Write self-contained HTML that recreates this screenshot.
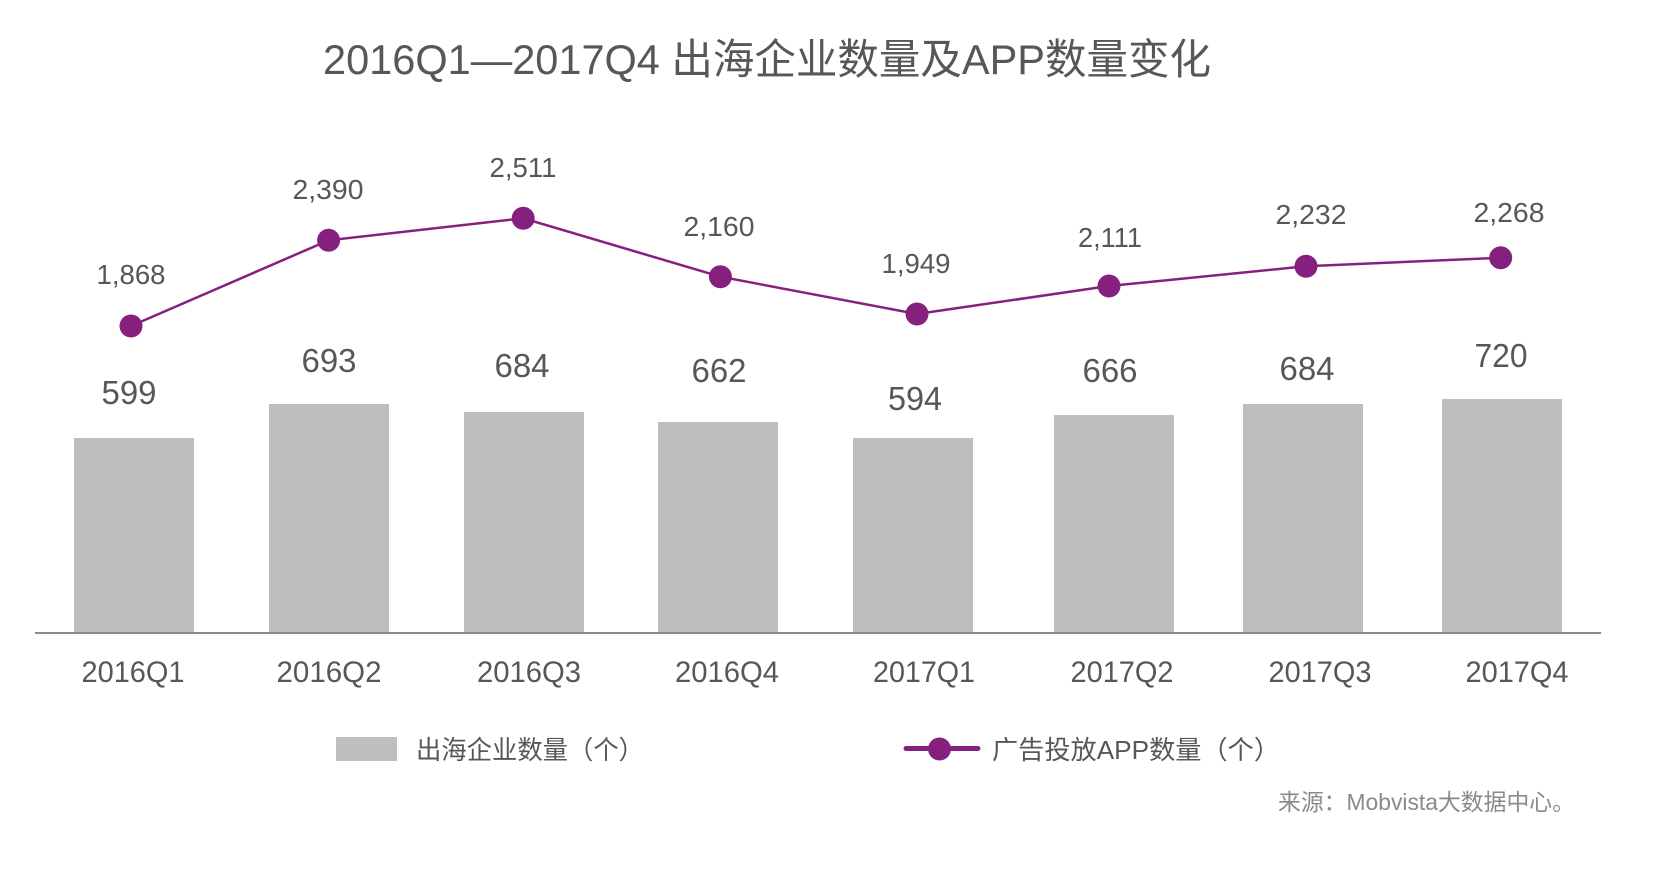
<!DOCTYPE html>
<html>
<head>
<meta charset="utf-8">
<style>
  html, body { margin: 0; padding: 0; background: #ffffff; }
  body { width: 1664px; height: 888px; overflow: hidden; }
  svg { display: block; }
  text { font-family: "Liberation Sans", "Noto Sans CJK SC", sans-serif; fill: #575757; }
</style>
</head>
<body>
<svg width="1664" height="888" viewBox="0 0 1664 888" xmlns="http://www.w3.org/2000/svg">
  <rect x="0" y="0" width="1664" height="888" fill="#ffffff"/>

  <!-- Title -->
  <text x="323" y="74" font-size="42" textLength="888" lengthAdjust="spacingAndGlyphs">2016Q1—2017Q4 出海企业数量及APP数量变化</text>

  <!-- Bars -->
  <g fill="#bdbebd">
    <rect x="74" y="438" width="120" height="195"/>
    <rect x="269" y="404" width="120" height="229"/>
    <rect x="464" y="412" width="120" height="221"/>
    <rect x="658" y="422" width="120" height="211"/>
    <rect x="853" y="438" width="120" height="195"/>
    <rect x="1054" y="415" width="120" height="218"/>
    <rect x="1243" y="404" width="120" height="229"/>
    <rect x="1442" y="399" width="120" height="234"/>
  </g>

  <!-- Axis -->
  <line x1="35" y1="633" x2="1601" y2="633" stroke="#8c8c8c" stroke-width="2"/>

  <!-- Bar labels -->
  <g font-size="33" text-anchor="middle">
    <text x="129" y="404" textLength="55" lengthAdjust="spacingAndGlyphs">599</text>
    <text x="329" y="372" textLength="55" lengthAdjust="spacingAndGlyphs">693</text>
    <text x="522" y="377" textLength="55" lengthAdjust="spacingAndGlyphs">684</text>
    <text x="719" y="382" textLength="55" lengthAdjust="spacingAndGlyphs">662</text>
    <text x="915" y="410" textLength="54" lengthAdjust="spacingAndGlyphs">594</text>
    <text x="1110" y="382" textLength="55" lengthAdjust="spacingAndGlyphs">666</text>
    <text x="1307" y="380" textLength="55" lengthAdjust="spacingAndGlyphs">684</text>
    <text x="1501" y="367" textLength="53" lengthAdjust="spacingAndGlyphs">720</text>
  </g>

  <!-- Line series -->
  <polyline fill="none" stroke="#86207f" stroke-width="2.5"
    points="131,326 328.6,240.3 523.2,218.3 720.4,276.7 917,314 1109,286 1306,266.3 1500.7,257.7"/>
  <g fill="#86207f">
    <circle cx="131" cy="326" r="11.5"/>
    <circle cx="328.6" cy="240.3" r="11.5"/>
    <circle cx="523.2" cy="218.3" r="11.5"/>
    <circle cx="720.4" cy="276.7" r="11.5"/>
    <circle cx="917" cy="314" r="11.5"/>
    <circle cx="1109" cy="286" r="11.5"/>
    <circle cx="1306" cy="266.3" r="11.5"/>
    <circle cx="1500.7" cy="257.7" r="11.5"/>
  </g>

  <!-- Line labels -->
  <g font-size="28" text-anchor="middle">
    <text x="131" y="284" textLength="69" lengthAdjust="spacingAndGlyphs">1,868</text>
    <text x="328" y="199" textLength="71" lengthAdjust="spacingAndGlyphs">2,390</text>
    <text x="523" y="177" textLength="67" lengthAdjust="spacingAndGlyphs">2,511</text>
    <text x="719" y="236" textLength="71" lengthAdjust="spacingAndGlyphs">2,160</text>
    <text x="916" y="273" textLength="69" lengthAdjust="spacingAndGlyphs">1,949</text>
    <text x="1110" y="247" textLength="64" lengthAdjust="spacingAndGlyphs">2,111</text>
    <text x="1311" y="224" textLength="71" lengthAdjust="spacingAndGlyphs">2,232</text>
    <text x="1509" y="222" textLength="71" lengthAdjust="spacingAndGlyphs">2,268</text>
  </g>

  <!-- X axis labels -->
  <g font-size="30" text-anchor="middle">
    <text x="133" y="682" textLength="103" lengthAdjust="spacingAndGlyphs">2016Q1</text>
    <text x="329" y="682" textLength="105" lengthAdjust="spacingAndGlyphs">2016Q2</text>
    <text x="529" y="682" textLength="104" lengthAdjust="spacingAndGlyphs">2016Q3</text>
    <text x="727" y="682" textLength="104" lengthAdjust="spacingAndGlyphs">2016Q4</text>
    <text x="924" y="682" textLength="102" lengthAdjust="spacingAndGlyphs">2017Q1</text>
    <text x="1122" y="682" textLength="103" lengthAdjust="spacingAndGlyphs">2017Q2</text>
    <text x="1320" y="682" textLength="103" lengthAdjust="spacingAndGlyphs">2017Q3</text>
    <text x="1517" y="682" textLength="103" lengthAdjust="spacingAndGlyphs">2017Q4</text>
  </g>

  <!-- Legend -->
  <rect x="336" y="737" width="61" height="24" fill="#bdbebd"/>
  <text x="416" y="759" font-size="26" textLength="228" lengthAdjust="spacingAndGlyphs">出海企业数量（个）</text>

  <line x1="906" y1="748.5" x2="978" y2="748.5" stroke="#86207f" stroke-width="5" stroke-linecap="round"/>
  <circle cx="939.5" cy="749" r="11.5" fill="#86207f"/>
  <text x="992" y="759" font-size="26" textLength="288" lengthAdjust="spacingAndGlyphs">广告投放APP数量（个）</text>

  <!-- Source -->
  <text x="1278" y="810" font-size="23" fill="#8a8a8a" style="fill:#8a8a8a" textLength="297" lengthAdjust="spacingAndGlyphs">来源：Mobvista大数据中心。</text>
</svg>
</body>
</html>
